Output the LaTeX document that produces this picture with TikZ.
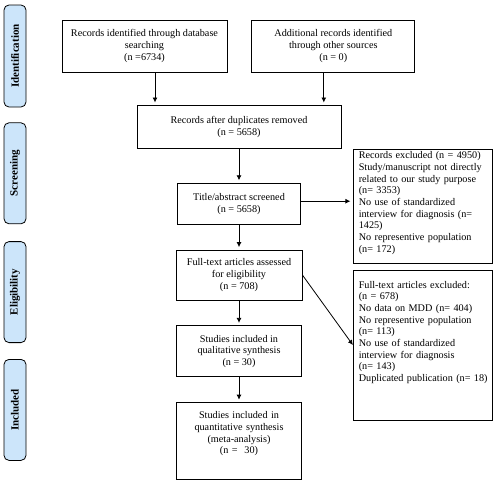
\documentclass[tikz,border=0pt]{standalone}
\usepackage{fontspec}
\setmainfont{Liberation Serif}
\usetikzlibrary{arrows.meta, positioning, calc}
\definecolor{stagefill}{RGB}{204,229,250}

\begin{document}
\begin{tikzpicture}[
    font=\fontsize{10.2}{11.7}\selectfont,
    line width=0.8pt,
    every node/.style={inner sep=3pt},
    box/.style={draw, align=center, fill=white},
    exclbox/.style={draw, align=left, text width=128pt, inner xsep=5.5pt, inner ysep=3pt},
    stage/.style={draw, rounded corners=5pt, fill=stagefill, minimum width=22pt,
                  minimum height=101pt, font=\fontsize{11}{13}\selectfont\bfseries},
    arrow/.style={-{Latex[length=5pt, width=5pt]}, line width=0.8pt, shorten >=2.5pt},
    darr/.style={-{Latex[length=5pt, width=5pt]}, line width=0.8pt}
]
\useasboundingbox (0,0) rectangle (495pt,-479pt);

% ================= Left (stage labels) =================
\node[stage, minimum height=102pt] (ident) at (15pt,-56pt) {\rotatebox{90}{Identification}};
\node[stage, below=15pt of ident] (screen) {\rotatebox{90}{Screening}};
\node[stage, below=17pt of screen] (elig) {\rotatebox{90}{Eligibility}};
\node[stage, below=16pt of elig] (incl) {\rotatebox{90}{Included}};

% ================= Identification =================
\node[box, minimum width=165pt, minimum height=52pt] (db) at (144.5pt,-46pt)
    {Records identified through database\\searching\\(n =6734)};
\node[box, minimum width=163pt, minimum height=52pt, right=24pt of db] (other)
    {Additional records identified\\through other sources\\(n = 0)};

% ================= Main column =================
\coordinate (colTop) at (239pt,-105pt);
\node[box, minimum width=204pt, minimum height=43pt, below=0pt of colTop] (dup)
    {Records after duplicates removed\\(n = 5658)};
\node[box, minimum width=123pt, minimum height=41pt, below=34pt of dup] (title)
    {Title/abstract screened\\(n = 5658)};
\node[box, minimum width=126pt, minimum height=50pt, below=25pt of title] (full)
    {Full-text articles assessed\\for eligibility\\(n = 708)};
\node[box, minimum width=125pt, minimum height=51pt, below=25pt of full] (qual)
    {Studies included in\\qualitative synthesis\\(n = 30)};
\node[box, text width=119pt, text height=13pt, text depth=58pt, below=25pt of qual] (quant)
    {Studies included in\\quantitative synthesis\\(meta-analysis)\\(n = \ 30)};

% ================= Right (exclusions) =================
\node[exclbox, text height=6.5pt, text depth=101.5pt, right=52pt of title, yshift=-2.5pt] (excl1)
    {Records excluded (n = 4950)\\Study/manuscript not directly\\related to our study purpose\\(n= 3353)\\No use of standardized\\interview for diagnosis (n=\\1425)\\No representive population\\(n= 172)};
\node[exclbox, text height=15pt, text depth=129pt, below=6pt of excl1] (excl2)
    {Full-text articles excluded:\\(n = 678)\\No data on MDD (n= 404)\\No representive population\\(n= 113)\\No use of standardized\\interview for diagnosis\\(n= 143)\\\mbox{Duplicated publication (n= 18)}};

% Arrows
\draw[arrow] ([xshift=10.5pt]db.south) -- ([xshift=10.5pt]db.south |- dup.north);
\draw[arrow] ([xshift=-9.5pt]other.south) -- ([xshift=-9.5pt]other.south |- dup.north);
\draw[arrow] (dup) -- (title);
\draw[arrow] ([yshift=2.5pt]title.east) -- ([yshift=2.5pt]title.east -| excl1.west);
\draw[arrow] (title) -- (full);
\draw[arrow] (full) -- (qual);
\draw[arrow] (qual) -- (quant);
\draw[darr] (full.east) -- (excl2.west);

\end{tikzpicture}
\end{document}
